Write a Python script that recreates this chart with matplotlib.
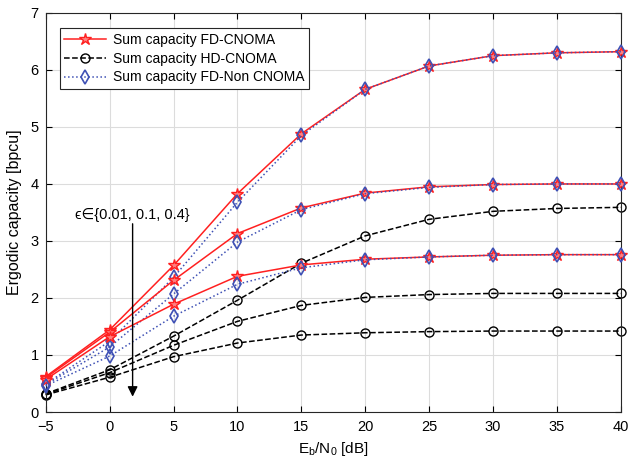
import numpy as np
import matplotlib
matplotlib.use("Agg")
from matplotlib import pyplot as plt

plt.rcParams['font.family'] = ['Liberation Sans', 'DejaVu Sans']

snr = [-5, 0, 5, 10, 15, 20, 25, 30, 35, 40]

# FD-CNOMA, eps = 0.01, 0.1, 0.4
fd_1 = [0.62, 1.44, 2.57, 3.83, 4.88, 5.66, 6.07, 6.25, 6.30, 6.32]
fd_2 = [0.60, 1.40, 2.31, 3.13, 3.58, 3.84, 3.95, 3.99, 4.00, 4.00]
fd_3 = [0.57, 1.32, 1.89, 2.38, 2.58, 2.68, 2.72, 2.75, 2.76, 2.76]

# HD-CNOMA
hd_1 = [0.32, 0.74, 1.33, 1.96, 2.61, 3.09, 3.38, 3.52, 3.57, 3.59]
hd_2 = [0.31, 0.69, 1.17, 1.59, 1.87, 2.01, 2.06, 2.08, 2.08, 2.08]
hd_3 = [0.30, 0.61, 0.97, 1.21, 1.35, 1.39, 1.41, 1.42, 1.42, 1.42]

# FD-Non CNOMA
nc_1 = [0.49, 1.24, 2.36, 3.68, 4.85, 5.66, 6.07, 6.25, 6.30, 6.32]
nc_2 = [0.48, 1.14, 2.07, 2.98, 3.55, 3.83, 3.94, 3.99, 4.00, 4.00]
nc_3 = [0.46, 0.98, 1.68, 2.24, 2.53, 2.67, 2.72, 2.75, 2.76, 2.76]

fig = plt.figure(figsize=(6.3, 4.69), dpi=100)
ax = fig.add_axes([0.0725, 0.1215, 0.9132, 0.851])

red = '#ff2020'
blue = '#3f51b5'

for i, (f, h, n) in enumerate(zip([fd_1, fd_2, fd_3], [hd_1, hd_2, hd_3], [nc_1, nc_2, nc_3])):
	ax.plot(snr, h, '--', color='k', marker='o', mfc='none', ms=6.5, lw=1.1,
		label='Sum capacity HD-CNOMA' if i == 0 else None, zorder=2, clip_on=False)
	ax.plot(snr, f, '-', color=red, marker='*', mfc='#ff8080', mec=red, ms=9, lw=1.1,
		label='Sum capacity FD-CNOMA' if i == 0 else None, zorder=3, clip_on=False)
	ax.plot(snr, n, ':', color=blue, marker='d', mfc='none', mec=blue, ms=7, mew=1.2, lw=1.1,
		label='Sum capacity FD-Non CNOMA' if i == 0 else None, zorder=3, clip_on=False)

ax.set_xlim(-5, 40)
ax.set_ylim(0, 7)
ax.set_xticks(np.arange(-5, 41, 5))
ax.set_yticks(np.arange(0, 8, 1))
ax.grid(True, color='#dcdcdc', lw=0.8)
ax.set_axisbelow(True)
ax.tick_params(direction='in', top=True, right=True, labelsize=10.5, length=4)
ax.tick_params(axis='x', pad=6)
ax.tick_params(axis='y', pad=5)
for s in ax.spines.values():
	s.set_color('#262626')
	s.set_linewidth(0.8)

ax.set_xlabel(r'E$_\mathregular{b}$/N$_\mathregular{0}$ [dB]', fontsize=11)
ax.set_ylabel('Ergodic capacity [bpcu]', fontsize=11.5, labelpad=6)

ax.annotate('', xy=(1.8, 0.22), xytext=(1.8, 3.35),
	arrowprops=dict(arrowstyle='-|>', color='k', lw=1.0, mutation_scale=15))
ax.text(-2.7, 3.45, '\u03f5\u2208{0.01, 0.1, 0.4}', fontsize=10.5, va='center', ha='left')

h, l = ax.get_legend_handles_labels()
order = [1, 0, 2]
leg = ax.legend([h[k] for k in order], [l[k] for k in order], loc='upper left',
	fontsize=10, fancybox=False, edgecolor='#262626', framealpha=1,
	borderpad=0.35, handlelength=3.0, handletextpad=0.5, labelspacing=0.35,
	bbox_to_anchor=(0.012, 0.98))
leg.get_frame().set_linewidth(0.8)

fig.savefig('out.png', dpi=100)
